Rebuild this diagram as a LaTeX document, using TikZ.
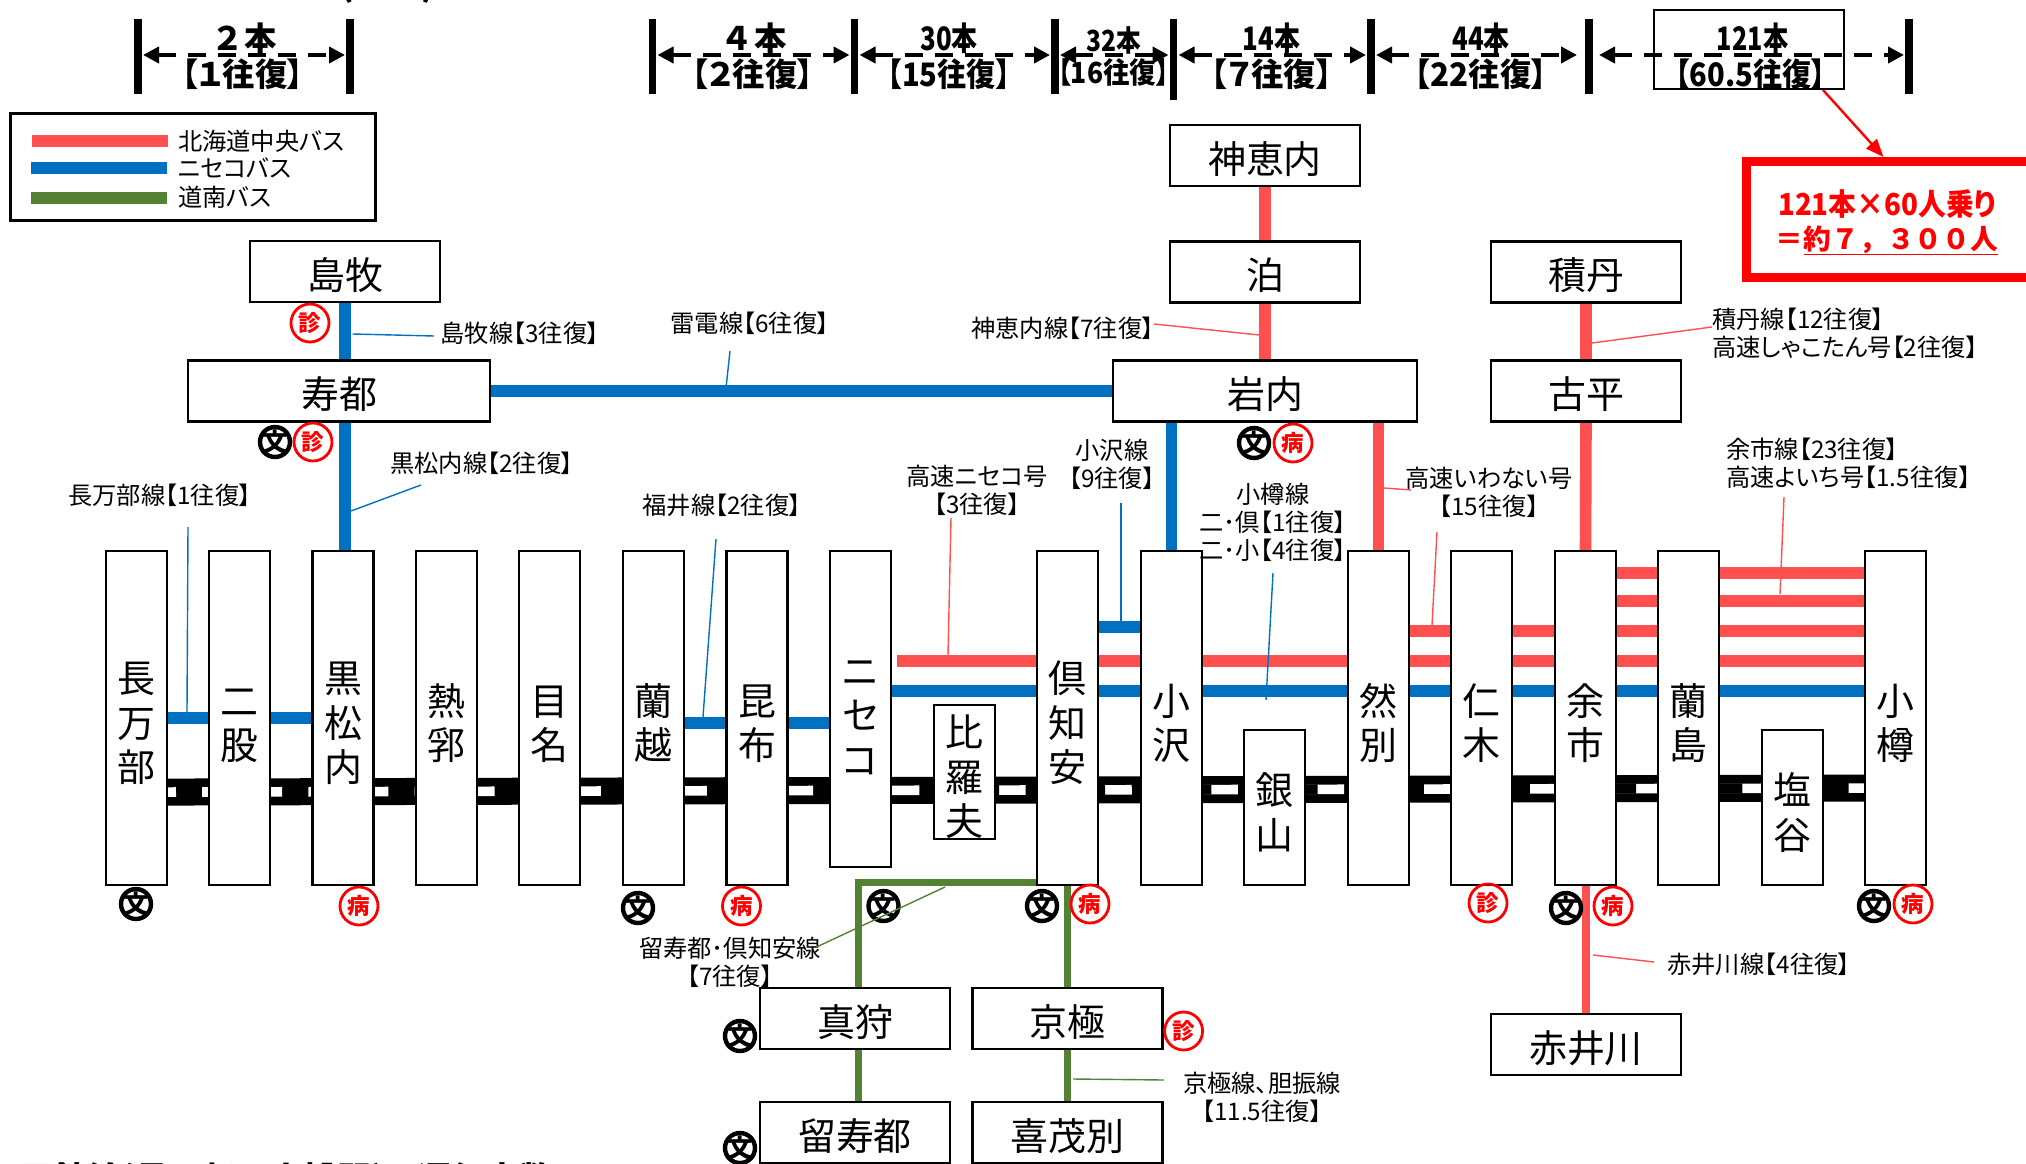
\documentclass[tikz,border=0pt]{standalone}
\usepackage{fontspec}
\setmainfont[RawFeature=+palt]{Noto Sans CJK JP}
\newfontfamily\plainjp{Noto Sans CJK JP Black}
\newfontfamily\heavyjp[RawFeature=+palt]{Noto Sans CJK JP Black}
\usetikzlibrary{arrows.meta,backgrounds}
\definecolor{chuored}{HTML}{FF5050}
\definecolor{nisekoblue}{HTML}{0070C0}
\definecolor{donangreen}{HTML}{548235}
% struts that drop the station names a little inside their boxes
\newcommand{\tallkick}{\rule{0pt}{2.1cm}}
\newcommand{\sidekick}{\rule{0pt}{1.92cm}}
\tikzset{
  stationfont/.style={font=\fontsize{54}{63.3}\selectfont},
  labelfont/.style={font=\fontsize{34.5}{39.8}\selectfont},
  spanfont/.style={font=\fontsize{46}{50}\selectfont\heavyjp},
  chuoline/.style={draw=chuored,line width=.58cm},
  nisekoline/.style={draw=nisekoblue,line width=.58cm},
  donanline/.style={draw=donangreen,line width=.37cm},
  chuotag/.style={draw=chuored,line width=.07cm},
  nisekotag/.style={draw=nisekoblue,line width=.07cm},
  donantag/.style={draw=donangreen,line width=.07cm},
  tickline/.style={draw=black,line width=.36cm},
  spanline/.style={draw=black,line width=.24cm,dash pattern=on .9cm off .6cm,
    {Triangle[length=.8cm,width=.8cm]}-{Triangle[length=.8cm,width=.8cm]},
    shorten <=.25cm,shorten >=.25cm},
  bunmark/.style={circle,draw=black,line width=.22cm,minimum size=1.5cm,inner sep=-.3cm,
    font=\fontsize{36}{36}\selectfont\heavyjp},
  redmark/.style={circle,draw=red,text=red,line width=.14cm,minimum size=1.9cm,inner sep=0,
    font=\fontsize{32}{32}\selectfont\heavyjp},
}
\begin{document}
\begin{tikzpicture}[x=.05cm,y=-.05cm]
  \useasboundingbox (0,0) rectangle (2026,1164);

  % tall stations on the main line
  \begin{scope}[every node/.style={draw,fill=white,line width=.12cm,inner sep=0,align=center,
      minimum width=3.05cm,minimum height=16.7cm,stationfont}]
    \node (oshamambe)    at (136.5,718)  {\tallkick 長\\万\\部};
    \node (futamata)     at (239.5,718)  {\tallkick 二\\股};
    \node (kuromatsunai) at (343,718)    {\tallkick 黒\\松\\内};
    \node (neppu)        at (446.5,718)  {\tallkick 熱\\郛};
    \node (mena)         at (549.5,718)  {\tallkick 目\\名};
    \node (rankoshi)     at (653.5,718)  {\tallkick 蘭\\越};
    \node (konbu)        at (757,718)    {\tallkick 昆\\布};
    \node[minimum height=15.8cm] (niseko) at (860.5,709) {\tallkick ニ\\セ\\コ};
    \node[minimum height=6.7cm]  (hirafu) at (964.5,772) {\tallkick 比\\羅\\夫};
    \node (kutchan)      at (1067.5,718) {\tallkick 倶\\知\\安};
    \node (kozawa)       at (1171.5,718) {\tallkick 小\\沢};
    \node[minimum height=7.75cm] (ginzan) at (1274.5,807.5) {\tallkick 銀\\山};
    \node (shikaribetsu) at (1378.5,718) {\tallkick 然\\別};
    \node (niki)         at (1481.5,718) {\tallkick 仁\\木};
    \node (yoichi)       at (1585.5,718) {\tallkick 余\\市};
    \node (ranshima)     at (1688.5,718) {\tallkick 蘭\\島};
    \node[minimum height=7.75cm] (shioya) at (1792.5,807.5) {\tallkick 塩\\谷};
    \node (otaru)        at (1895.5,718) {\tallkick 小\\樽};
  \end{scope}

  % side stations
  \begin{scope}[every node/.style={draw,fill=white,line width=.12cm,inner sep=0,
      minimum width=9.5cm,minimum height=3.05cm,stationfont}]
    \node (shimamaki) at (345,271.5)  {\sidekick 島牧};
    \node[minimum width=15.1cm] (suttsu) at (339,391) {\sidekick 寿都};
    \node (kamoenai)  at (1265,155.5) {\sidekick 神恵内};
    \node (tomari)    at (1265,272)   {\sidekick 泊};
    \node[minimum width=15.2cm] (iwanai) at (1265,391) {\sidekick 岩内};
    \node (shakotan)  at (1586,272)   {\sidekick 積丹};
    \node (furubira)  at (1586,391)   {\sidekick 古平};
    \node (makkari)   at (855,1018.5) {\sidekick 真狩};
    \node (rusutsu)   at (855,1132.5) {\sidekick 留寿都};
    \node (kyogoku)   at (1067.5,1018.5) {\sidekick 京極};
    \node (kimobetsu) at (1067.5,1132.5) {\sidekick 喜茂別};
    \node (akaigawa)  at (1586,1044.5) {\sidekick 赤井川};
  \end{scope}

  % railway and bus lines behind the stations
  \begin{scope}[on background layer]
    \coordinate (trackwest) at (106,792.2);
    \coordinate (trackmid)  at (937,790.2);
    \coordinate (trackeast) at (1926,787.9);
    \draw[black,line width=1.35cm] (trackwest) -- (trackeast);
    \draw[white,line width=.48cm,dash pattern=on 4cm off 1.31cm,dash phase=.5cm] (trackwest) -- (trackeast);
    \draw[black,line width=.5cm,dash pattern=on 3.1cm off 2.21cm] (trackmid) -- (trackeast);

    \begin{scope}[every edge/.style={nisekoline}]
      \path (shimamaki.south) edge (shimamaki.south |- suttsu.north);
      \path ([xshift=.1cm]kuromatsunai.north) edge ([xshift=.1cm]kuromatsunai.north |- suttsu.south);
      \path (suttsu.east) edge (iwanai.west);
      \path (kozawa.north) edge (kozawa.north |- iwanai.south);
      \path (oshamambe |- 0,718) edge (kuromatsunai |- 0,718);
      \path (rankoshi |- 0,723) edge (niseko |- 0,723);
      \path (niseko |- 0,691) edge (otaru |- 0,691);
      \path (kutchan |- 0,627) edge (kozawa |- 0,627);
    \end{scope}

    \coordinate (kosokunisekoend) at (897,661);
    \begin{scope}[every edge/.style={chuoline}]
      \path (kamoenai.south) edge (iwanai.north);
      \path (shakotan.south) edge (furubira.north);
      \path (furubira.south) edge (yoichi.north);
      \path (shikaribetsu.north) edge (shikaribetsu.north |- iwanai.south);
      \path (kosokunisekoend) edge (otaru |- 0,661);
      \path (shikaribetsu |- 0,631) edge (otaru |- 0,631);
      \path (yoichi |- 0,601) edge (otaru |- 0,601);
      \path (yoichi |- 0,573) edge (otaru |- 0,573);
      \path (akaigawa.north |- yoichi.south) edge[line width=.42cm] (akaigawa.north);
    \end{scope}

    \coordinate (donancorner) at (858.5,882.5);
    \begin{scope}[every edge/.style={donanline}]
      \path (kutchan |- donancorner) edge (donancorner);
      \path ([yshift=.18cm]donancorner) edge (donancorner |- makkari.north);
      \path (donancorner |- makkari.south) edge (donancorner |- rusutsu.north);
      \path (kutchan.south) edge (kutchan.south |- kyogoku.north);
      \path (kyogoku.south) edge (kimobetsu.north);
    \end{scope}
  \end{scope}

  % run counts along the top
  \node[draw,line width=.12cm,minimum width=9.5cm,minimum height=3.95cm] (runbox) at (1749,49.5) {};
  \coordinate (tick1) at (138,55);
  \coordinate (tick2) at (350,55);
  \coordinate (tick3) at (652.5,55);
  \coordinate (tick4) at (854.5,55);
  \coordinate (tick5) at (1055,55);
  \coordinate (tick6) at (1173.5,55);
  \coordinate (tick7) at (1371,55);
  \coordinate (tick8) at (1589,55);
  \coordinate (tick9) at (1909,55);
  \begin{scope}[every edge/.style={tickline}]
    \path (tick1 |- 0,19) edge (tick1 |- 0,94);
    \path (tick2 |- 0,19) edge (tick2 |- 0,94);
    \path (tick3 |- 0,19) edge (tick3 |- 0,94);
    \path (tick4 |- 0,19) edge (tick4 |- 0,94);
    \path (tick5 |- 0,19) edge (tick5 |- 0,94);
    \path (tick6 |- 0,19) edge (tick6 |- 0,100);
    \path (tick7 |- 0,19) edge (tick7 |- 0,94);
    \path (tick8 |- 0,19) edge (tick8 |- 0,94);
    \path (tick9 |- 0,19) edge (tick9 |- 0,94);
  \end{scope}
  \begin{scope}[every edge/.style={spanline}]
    \path (tick1) edge (tick2);
    \path (tick3) edge (tick4);
    \path (tick4) edge (tick5);
    \path (tick5) edge (tick6);
    \path (tick6) edge (tick7);
    \path (tick7) edge[shorten >=.6cm] (tick8);
    \path (tick8) edge[shorten <=.5cm] (tick9);
  \end{scope}
  \begin{scope}[every node/.style={spanfont,inner sep=0}]
    \node (runA) at (246,38)    {２\,本};
    \node (tripA) at (243,74)   {【１往復】};
    \node (runB) at (756,38)    {４\,本};
    \node (tripB) at (753,74)   {【２往復】};
    \node (runC) at (949,38)    {\scalebox{.8}[1]{30本}};
    \node (tripC) at (949,74)   {\scalebox{.9}[1]{【15往復】}};
    \node (runD) at (1113.5,40) {\scalebox{.76}[.9]{32本}};
    \node (tripD) at (1113.5,72) {\scalebox{.82}[.9]{【16往復】}};
    \node (runE) at (1271.6,38) {\scalebox{.8}[1]{14本}};
    \node (tripE) at (1271.6,74) {【７往復】};
    \node (runF) at (1481,38)   {\scalebox{.8}[1]{44本}};
    \node (tripF) at (1481,74)  {\scalebox{.97}[1]{【22往復】}};
    \node (runG) at (1752.6,38) {\scalebox{.78}[1]{121本}};
    \node (tripG) at (1750.7,74) {\scalebox{.9}[1]{【60.5往復】}};
  \end{scope}

  % the red total box
  \node[draw=red,line width=.45cm,minimum width=15.15cm,minimum height=5.8cm] (totalbox) at (1898,219.5) {};
  \node[red,font=\fontsize{43}{46}\selectfont\heavyjp,inner sep=0] (totalA) at (1887,204) {\scalebox{.92}[1]{121本×60人乗り}};
  \node[red,font=\fontsize{39.5}{46}\selectfont\plainjp,inner sep=0] (totalB) at (1887,240) {＝\underline{約７，３００人}};
  \coordinate (totaltail) at (1823,90);
  \coordinate (totaltip) at (1883.5,157);
  \draw[red,line width=.12cm,-{Triangle[length=.9cm,width=.7cm]}] (totaltail) -- (totaltip);

  % legend
  \node[draw,line width=.15cm,minimum width=18.3cm,minimum height=5.4cm] (legend) at (193,167) {};
  \begin{scope}[every node/.style={labelfont,anchor=west,inner sep=0}]
    \node (legendchuo)   at (178,141) {北海道中央バス};
    \node (legendniseko) at (178,168) {ニセコバス};
    \node (legenddonan)  at (178,197) {道南バス};
  \end{scope}
  \coordinate (legendchuostart) at (32,141);
  \coordinate (legendnisekostart) at (31,168);
  \coordinate (legenddonanstart) at (31,198);
  \draw[chuoline] (legendchuostart) -- ([xshift=-.5cm]legendchuo.west);
  \draw[nisekoline] (legendnisekostart) -- ([xshift=-.55cm]legendniseko.west);
  \draw[donangreen,line width=.6cm] (legenddonanstart) -- ([xshift=-.55cm,yshift=-.05cm]legenddonan.west);

  % clinic and school marks
  \begin{scope}[every node/.style={bunmark}]
    \node (bunA) at (275,442)   {文};
    \node (bunB) at (1254,443)  {文};
    \node (bunC) at (136,904)   {文};
    \node (bunD) at (638,908)   {文};
    \node (bunE) at (883.5,906) {文};
    \node (bunF) at (1042,906)  {文};
    \node (bunG) at (1566,908)  {文};
    \node (bunH) at (1874,906)  {文};
    \node (bunI) at (740,1036)  {文};
    \node (bunJ) at (740,1148)  {文};
  \end{scope}
  \begin{scope}[every node/.style={redmark}]
    \node (shinA) at (310,323)    {診};
    \node (shinB) at (313,442)    {診};
    \node (byoA)  at (1293,443)   {病};
    \node (byoB)  at (359,906)    {病};
    \node (byoC)  at (741.5,906)  {病};
    \node (byoD)  at (1090,904)   {病};
    \node (shinC) at (1488,903)   {診};
    \node (byoE)  at (1613,906)   {病};
    \node (byoF)  at (1913,904)   {病};
    \node (shinD) at (1183.6,1031) {診};
  \end{scope}

  % route labels
  \begin{scope}[every node/.style={labelfont,inner sep=0,align=center}]
    \node (shimamakilabel) at (520,333) {島牧線【3往復】};
    \node (raidenlabel)    at (750,323) {雷電線【6往復】};
    \node (kamoenailabel)  at (1063,328) {神恵内線【7往復】};
    \node[anchor=west,align=left] (shakotanlabel) at (1712,333) {積丹線【12往復】\\高速しゃこたん号【2往復】};
    \node (kuromatsunailabel) at (482,463) {黒松内線【2往復】};
    \node (oshamambelabel) at (160,495) {長万部線【1往復】};
    \node (fukuilabel)     at (722,505) {福井線【2往復】};
    \node (kosokunisekolabel) at (977,490) {高速ニセコ号\\【3往復】};
    \node (kozawalabel)    at (1112,464) {小沢線\\【9往復】};
    \node (otarulabel)     at (1273,522) {小樽線\\二･倶【1往復】\\二･小【4往復】};
    \node (iwanailabel)    at (1489,492) {高速いわない号\\【15往復】};
    \node[anchor=west,align=left] (yoichilabel) at (1726,463) {余市線【23往復】\\高速よいち号【1.5往復】};
    \node (rusutsulabel)   at (730,962) {留寿都･倶知安線\\【7往復】};
    \node (kyogokulabel)   at (1262,1097) {京極線、胆振線\\【11.5往復】};
    \node (akaigawalabel)  at (1759,964) {赤井川線【4往復】};
  \end{scope}

  % headings cut off by the page edge
  \begin{scope}[every node/.style={font=\fontsize{48}{50}\selectfont\bfseries,inner sep=0,anchor=west}]
    \node (headtop) at (40,-14) {路線バスの運行本数(往復)};
    \node (headbottom) at (20,1180) {函館線(長万部～小樽間)の運行本数};
  \end{scope}

  % leader lines from the labels to the routes
  \coordinate (tagA) at (434,336);     \coordinate (hitA) at (352.7,334);
  \coordinate (tagB) at (730,351);     \coordinate (hitB) at (726,388);
  \coordinate (tagC) at (1154,324);    \coordinate (hitC) at (1259,335);
  \coordinate (tagD) at (1712,327);    \coordinate (hitD) at (1592,343);
  \coordinate (tagE) at (421,485);     \coordinate (hitE) at (351,511);
  \coordinate (tagF) at (188,527);     \coordinate (hitF) at (187,712);
  \coordinate (tagG) at (716,539);     \coordinate (hitG) at (703,717);
  \coordinate (tagH) at (951,518);     \coordinate (hitH) at (948,655);
  \coordinate (tagI) at (1121,503);    \coordinate (hitI) at (1121,621);
  \coordinate (tagJ) at (1273,573);    \coordinate (hitJ) at (1266,700);
  \coordinate (tagK) at (1437,532);    \coordinate (hitK) at (1432,625);
  \coordinate (tagL) at (1411,490);    \coordinate (hitL) at (1384,488);
  \coordinate (tagM) at (1784,497);    \coordinate (hitM) at (1780,594);
  \coordinate (tagN) at (816.5,947);   \coordinate (hitN) at (945,887);
  \coordinate (tagO) at (1164,1080);   \coordinate (hitO) at (1073,1079);
  \coordinate (tagP) at (1654,962);    \coordinate (hitP) at (1593,955);
  \begin{scope}[every edge/.style={nisekotag}]
    \path (tagA) edge (hitA);
    \path (tagB) edge (hitB);
    \path (tagE) edge (hitE);
    \path (tagF) edge (hitF);
    \path (tagG) edge (hitG);
    \path (tagI) edge (hitI);
    \path (tagJ) edge (hitJ);
  \end{scope}
  \begin{scope}[every edge/.style={chuotag}]
    \path (tagC) edge (hitC);
    \path (tagD) edge (hitD);
    \path (tagH) edge (hitH);
    \path (tagK) edge (hitK);
    \path (tagL) edge (hitL);
    \path (tagM) edge (hitM);
    \path (tagP) edge (hitP);
  \end{scope}
  \begin{scope}[every edge/.style={donantag}]
    \path (tagN) edge (hitN);
    \path (tagO) edge (hitO);
  \end{scope}
\end{tikzpicture}
\end{document}
